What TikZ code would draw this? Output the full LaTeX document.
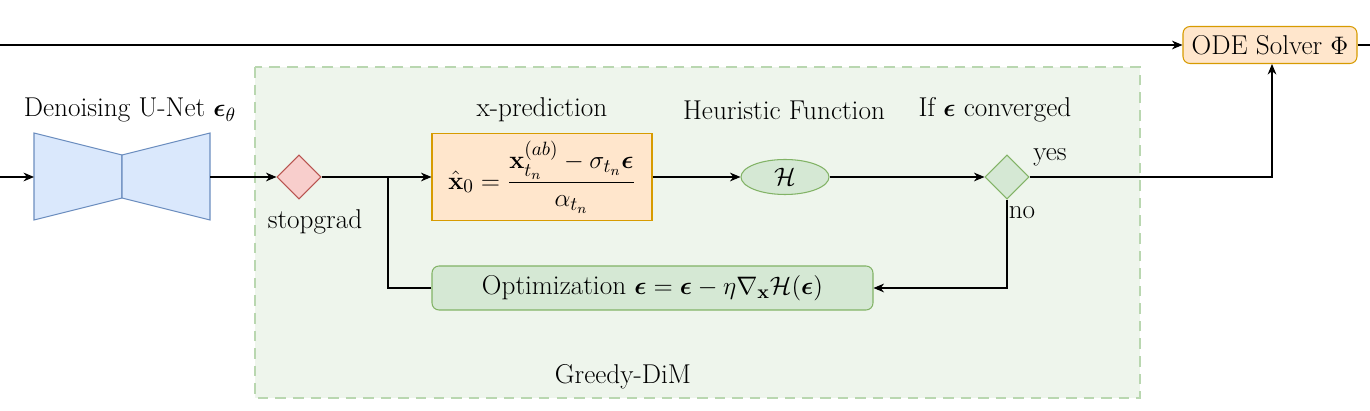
\documentclass[tikz,border=0pt]{standalone}
\usepackage{amsmath,amssymb}
\usetikzlibrary{shapes.geometric,arrows.meta}
\definecolor{ofill}{HTML}{FFE6CC}\definecolor{ostroke}{HTML}{D79B00}
\definecolor{gfill}{HTML}{D5E8D4}\definecolor{gstroke}{HTML}{82B366}
\definecolor{bfill}{HTML}{DAE8FC}\definecolor{bstroke}{HTML}{6C8EBF}
\definecolor{rfill}{HTML}{F8CECC}\definecolor{rstroke}{HTML}{B85450}
\definecolor{regfill}{HTML}{EEF5EC}\definecolor{regstroke}{HTML}{B9D7B0}
\begin{document}
\begin{tikzpicture}[x=0.02cm,y=-0.02cm,
  font=\fontsize{15.5}{18}\selectfont,
  conn/.style={draw=black,line width=0.6pt},
  arr/.style={conn,-{Stealth[length=6pt,width=5pt]}},
  orangebox/.style={draw=ostroke,fill=ofill,line width=0.6pt},
  greenbox/.style={draw=gstroke,fill=gfill,line width=0.6pt}]
\useasboundingbox (0,0) rectangle (1370,411);
% Greedy-DiM region
\fill[regfill] (255,67) rectangle (1140,398);
\draw[regstroke,line width=1.5pt,dash pattern=on 6pt off 4pt] (255,67) rectangle (1140,398);
\node (gd) at (623,377) {Greedy-DiM};
% ODE solver
\node[orangebox,rounded corners=4pt,minimum width=174*0.02cm,minimum height=37*0.02cm] (ode) at (1270,45) {ODE Solver $\Phi$};
\coordinate (tl) at (0,45);
\coordinate (tr) at (1370,45);
\draw[arr] (tl) -- (ode.west);
\draw[conn] (ode.east) -- (tr);
% U-Net
\draw[draw=bstroke,fill=bfill,line width=0.6pt] (34,133) -- (122,155) -- (122,198) -- (34,220) -- cycle;
\draw[draw=bstroke,fill=bfill,line width=0.6pt] (210,133) -- (122,155) -- (122,198) -- (210,220) -- cycle;
\coordinate (uin) at (34,177);
\coordinate (uout) at (210,177);
\coordinate (lin) at (0,177);
\node (ul) at (130,110) {Denoising U-Net $\boldsymbol{\epsilon}_\theta$};
\draw[arr] (lin) -- (uin);
% stopgrad
\node[diamond,draw=rstroke,fill=rfill,minimum width=44*0.02cm,minimum height=44*0.02cm,inner sep=0pt,line width=0.6pt] (sg) at (299,177) {};
\node (sgl) at (315,222) {stopgrad};
\draw[arr] (uout) -- (sg.west);
% x-prediction
\node[orangebox,minimum width=220*0.02cm,minimum height=87*0.02cm,inner sep=1pt] (xp) at (542,177)
 {$\hat{\mathbf{x}}_0=\dfrac{\mathbf{x}_{t_n}^{(ab)}-\sigma_{t_n}\boldsymbol{\epsilon}}{\alpha_{t_n}}$};
\node (xpl) at (542,110) {x-prediction};
\draw[arr] (sg.east) -- (xp.west);
% H
\node[ellipse,greenbox,minimum width=88*0.02cm,minimum height=35*0.02cm,inner sep=0pt] (h) at (785,177) {$\mathcal{H}$};
\node (hl) at (784,110) {Heuristic Function};
\draw[arr] (xp.east) -- (h.west);
% converged diamond
\node[diamond,greenbox,minimum width=44*0.02cm,minimum height=44*0.02cm,inner sep=0pt] (cv) at (1007,177) {};
\node (cvl) at (995,110) {If $\boldsymbol{\epsilon}$ converged};
\draw[arr] (h.east) -- (cv.west);
\node (yes) at (1050,157) {yes};
\node (no) at (1022,213) {no};
\draw[arr] (cv.east) -- (1272,177) -- (ode.south -| 1272,0);
% optimization
\node[greenbox,rounded corners=4pt,minimum width=441*0.02cm,minimum height=44*0.02cm] (opt) at (652.5,288)
 {Optimization $\boldsymbol{\epsilon}=\boldsymbol{\epsilon}-\eta\nabla_{\mathbf{x}}\mathcal{H}(\boldsymbol{\epsilon})$};
\draw[arr] (cv.south) |- (opt.east);
\draw[conn] (opt.west) -- (388,288) -- (388,177);
\end{tikzpicture}
\end{document}
